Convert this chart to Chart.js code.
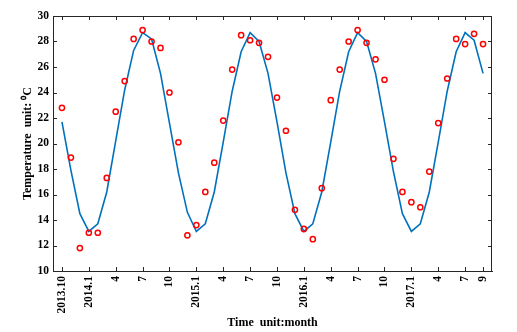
<!DOCTYPE html>
<html>
<head>
<meta charset="utf-8">
<script src="https://cdn.jsdelivr.net/npm/chart.js@4.4.0/dist/chart.umd.min.js"></script>
<style>
  html, body { margin: 0; padding: 0; background: #fff; }
  #wrap { width: 517px; height: 332px; }
</style>
</head>
<body>
<div id="wrap"><canvas id="tempChart" width="517" height="332"></canvas></div>
<script>
// observed monthly temperature, 2013.10 - 2017.9
const observed = [
  22.8, 18.9, 11.8, 13.0, 13.0, 17.3, 22.5, 24.9, 28.2, 28.9, 28.0, 27.5,
  24.0, 20.1, 12.8, 13.6, 16.2, 18.5, 21.8, 25.8, 28.5, 28.1, 27.9, 26.8,
  23.6, 21.0, 14.8, 13.3, 12.5, 16.5, 23.4, 25.8, 28.0, 28.9, 27.9, 26.6,
  25.0, 18.8, 16.2, 15.4, 15.0, 17.8, 21.6, 25.1, 28.2, 27.8, 28.6, 27.8
];
// fitted curve
const fitted = [
  21.7, 17.9, 14.5, 13.1, 13.7, 16.2, 20.2, 24.2, 27.3, 28.7, 28.2, 25.5,
  21.6, 17.7, 14.6, 13.1, 13.7, 16.2, 20.1, 24.1, 27.2, 28.7, 28.0, 25.5,
  21.7, 17.7, 14.5, 13.1, 13.7, 16.2, 20.1, 24.1, 27.2, 28.7, 28.0, 25.5,
  21.7, 17.8, 14.5, 13.1, 13.7, 16.2, 20.1, 24.1, 27.2, 28.7, 28.1, 25.5
];
const tickPositions = [0, 3, 6, 9, 12, 15, 18, 21, 24, 27, 30, 33, 36, 39, 42, 45, 47];
const tickLabels = ["2013.10", "2014.1", "4", "7", "10", "2015.1", "4", "7", "10",
  "2016.1", "4", "7", "10", "2017.1", "4", "7", "9"];

const AXIS_COLOR = "#262626";
const FONT_FAMILY = "'Liberation Serif', 'Times New Roman', serif";

// MATLAB style box with inward ticks
const boxTicks = {
  id: "boxTicks",
  afterDatasetsDraw(chart) {
    const { ctx, chartArea: a, scales } = chart;
    const len = 4;
    ctx.save();
    ctx.strokeStyle = AXIS_COLOR;
    ctx.lineWidth = 1;
    ctx.beginPath();
    scales.x.ticks.forEach((t) => {
      const px = Math.round(scales.x.getPixelForValue(t.value)) + 0.5;
      ctx.moveTo(px, a.bottom); ctx.lineTo(px, a.bottom - len);
      ctx.moveTo(px, a.top); ctx.lineTo(px, a.top + len);
    });
    scales.y.ticks.forEach((t) => {
      const py = Math.round(scales.y.getPixelForValue(t.value)) + 0.5;
      ctx.moveTo(a.left, py); ctx.lineTo(a.left + len, py);
      ctx.moveTo(a.right, py); ctx.lineTo(a.right - len, py);
    });
    ctx.moveTo(a.left, a.top + 0.5); ctx.lineTo(a.right, a.top + 0.5);
    ctx.moveTo(a.right - 0.5, a.top); ctx.lineTo(a.right - 0.5, a.bottom);
    ctx.stroke();
    ctx.restore();
  },
};

const ctx = document.getElementById("tempChart");
new Chart(ctx, {
  type: "line",
  data: {
    datasets: [
      {
        label: "observed",
        data: observed.map((v, i) => ({ x: i, y: v })),
        showLine: false,
        pointStyle: "circle",
        pointRadius: 2.6,
        pointBorderWidth: 1.5,
        pointBorderColor: "#ff0000",
        pointBackgroundColor: "rgba(255,255,255,0)",
      },
      {
        label: "fitted",
        data: fitted.map((v, i) => ({ x: i, y: v })),
        borderColor: "#0072bd",
        borderWidth: 1.6,
        pointRadius: 0,
        tension: 0,
        fill: false,
      },
    ],
  },
  options: {
    responsive: false,
    animation: false,
    layout: { padding: { top: 16, right: 25, bottom: 0, left: 0 } },
    plugins: {
      legend: { display: false },
      tooltip: { enabled: false },
    },
    scales: {
      x: {
        type: "linear",
        min: -1,
        max: 48,
        afterBuildTicks: (scale) => {
          scale.ticks = tickPositions.map((v) => ({ value: v }));
        },
        afterFit: (scale) => { scale.height = 61; },
        grid: { display: false, drawTicks: false },
        border: { display: true, color: AXIS_COLOR, width: 1 },
        ticks: {
          autoSkip: false,
          minRotation: 90,
          maxRotation: 90,
          padding: 5,
          color: "#000",
          font: { family: FONT_FAMILY, size: 11.5, weight: "bold" },
          callback: (value) => tickLabels[tickPositions.indexOf(value)],
        },
        title: {
          display: true,
          text: "Time  unit:month",
          color: "#000",
          font: { family: FONT_FAMILY, size: 12, weight: "bold" },
          padding: { top: 0, bottom: 2 },
        },
      },
      y: {
        min: 10,
        max: 30,
        afterFit: (scale) => { scale.width = 53; },
        grid: { display: false, drawTicks: false },
        border: { display: true, color: AXIS_COLOR, width: 1 },
        ticks: {
          stepSize: 2,
          padding: 4,
          color: "#000",
          font: { family: FONT_FAMILY, size: 11.5, weight: "bold" },
        },
        title: {
          display: true,
          text: "Temperature  unit: \u2070C",
          color: "#000",
          font: { family: FONT_FAMILY, size: 12, weight: "bold" },
          padding: { top: 21, bottom: 0 },
        },
      },
    },
  },
  plugins: [boxTicks],
});
</script>
</body>
</html>
